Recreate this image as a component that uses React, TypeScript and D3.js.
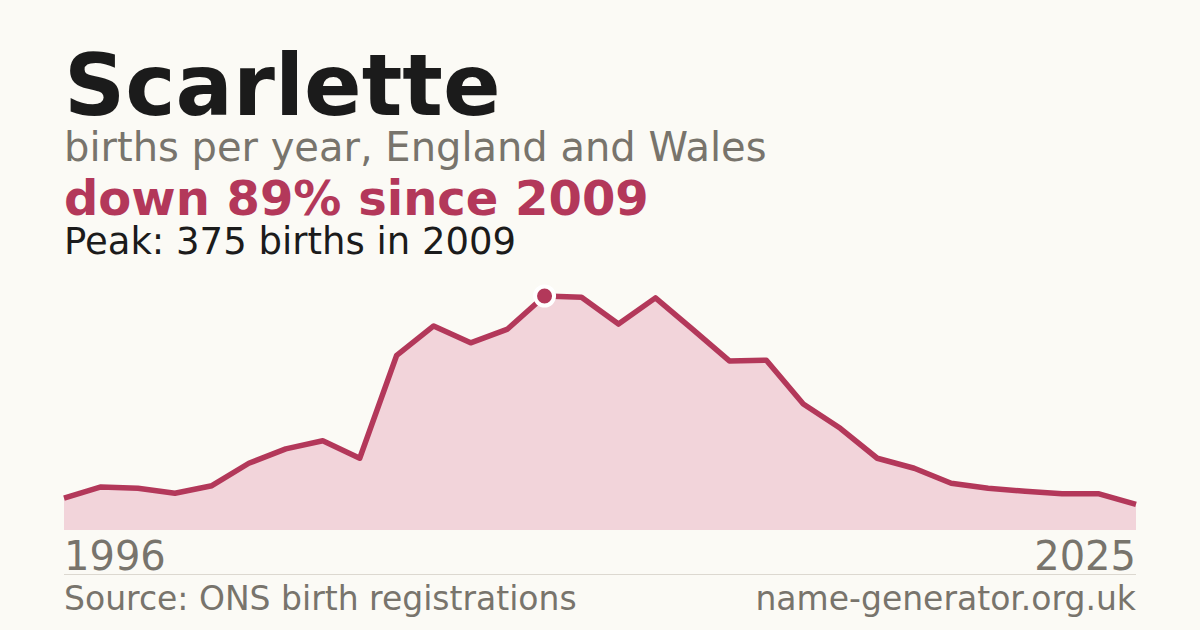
import React from "react";
import * as d3 from "d3";

const years: number[] = [1996,1997,1998,1999,2000,2001,2002,2003,2004,2005,2006,2007,2008,2009,2010,2011,2012,2013,2014,2015,2016,2017,2018,2019,2020,2021,2022,2023,2024,2025];
const births: number[] = [51,69,67,59,71,107,130,143,115,280,327,300,322,375,373,330,372,322,271,272,202,163,115,99,75,67,62,58,58,41];

const W = 1200, H = 630;
const FONT = "'DejaVu Sans', sans-serif";
const RED = "#b3385a";

export default function App() {
  const x = d3.scaleLinear().domain([years[0], years[years.length - 1]]).range([64, 1136]);
  const y = d3.scaleLinear().domain([0, 375]).range([530, 296]);
  const data = years.map((yr, i) => ({ yr, v: births[i] }));
  const area = d3.area<{ yr: number; v: number }>().x(d => x(d.yr)).y0(530).y1(d => y(d.v))(data) || "";
  const line = d3.line<{ yr: number; v: number }>().x(d => x(d.yr)).y(d => y(d.v))(data) || "";
  const peakIdx = births.indexOf(d3.max(births) as number);
  return (
    <svg width={W} height={H} style={{ position: "absolute", left: 0, top: 0, display: "block" }}>
      <rect width={W} height={H} fill="#fbfaf5" />
      <text x={64} y={115} fontFamily={FONT} fontWeight="bold" fontSize={85} fill="#1b1b1b">Scarlette</text>
      <text x={64} y={161} fontFamily={FONT} fontSize={40} fill="#78746c">births per year, England and Wales</text>
      <text x={64} y={215} fontFamily={FONT} fontWeight="bold" fontSize={48} fill={RED}>down 89% since 2009</text>
      <text x={64} y={254} fontFamily={FONT} fontSize={37} fill="#1b1b1b">Peak: 375 births in 2009</text>
      <path d={area} fill="#f2d4da" />
      <path d={line} fill="none" stroke={RED} strokeWidth={5.5} strokeLinejoin="round" />
      <circle cx={x(years[peakIdx])} cy={y(births[peakIdx])} r={9.5} fill={RED} stroke="#ffffff" strokeWidth={4} />
      <text x={64} y={570} fontFamily={FONT} fontSize={40} fill="#78746c">{years[0]}</text>
      <text x={1136} y={570} textAnchor="end" fontFamily={FONT} fontSize={40} fill="#78746c">{years[years.length - 1]}</text>
      <line x1={64} x2={1136} y1={574.5} y2={574.5} stroke="#dcd8d0" strokeWidth={1} />
      <text x={64} y={610} fontFamily={FONT} fontSize={33} fill="#78746c">Source: ONS birth registrations</text>
      <text x={1136} y={610} textAnchor="end" fontFamily={FONT} fontSize={33} fill="#78746c">name-generator.org.uk</text>
    </svg>
  );
}
